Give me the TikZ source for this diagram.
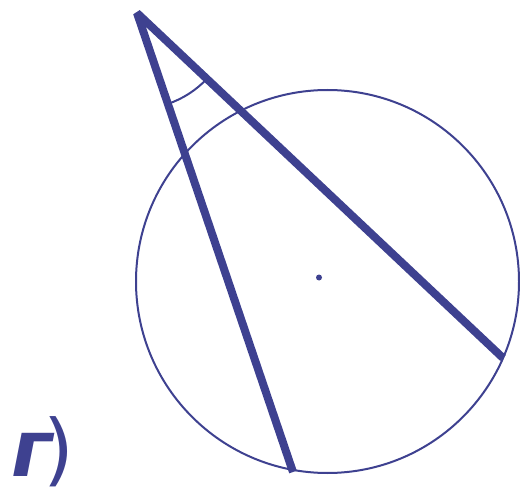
\documentclass[tikz,border=0pt]{standalone}
\usepackage{fontspec}
\usetikzlibrary{positioning,calc}
\newfontfamily\labfont{DejaVu Sans}
\definecolor{ink}{HTML}{3E4190}
\tikzset{
  side/.style={draw=ink, line width=8pt, line join=bevel},
  rim/.style={draw=ink, line width=2pt},
  angmark/.style={draw=ink, line width=2pt},
  lab/.style={font=\labfont\fontsize{79pt}{80pt}\selectfont, text=ink, inner sep=0pt},
}
\begin{document}
\begin{tikzpicture}[x=1pt, y=-1pt]
    \useasboundingbox (0,0) rectangle (520,492);
    \coordinate (o) at (327.5,281.5);
    \coordinate (a) at (137,13);
    \coordinate (b) at (293,472);
    \coordinate (c) at (503,358);
    % окружность
    \draw[rim] (o) circle[radius=191.5];
    \fill[ink] (319,277.5) circle[radius=3];
    % угол
    \draw[side] (b) -- (a) -- (c);
    \draw[angmark] ([shift={(43.5:96)}]a) arc[start angle=43.5, end angle=71.2, radius=96];
    \node[lab, anchor=base west] (g) at (11,476) {{\bfseries\itshape г}\kern-9pt)};
  \end{tikzpicture}
\end{document}
